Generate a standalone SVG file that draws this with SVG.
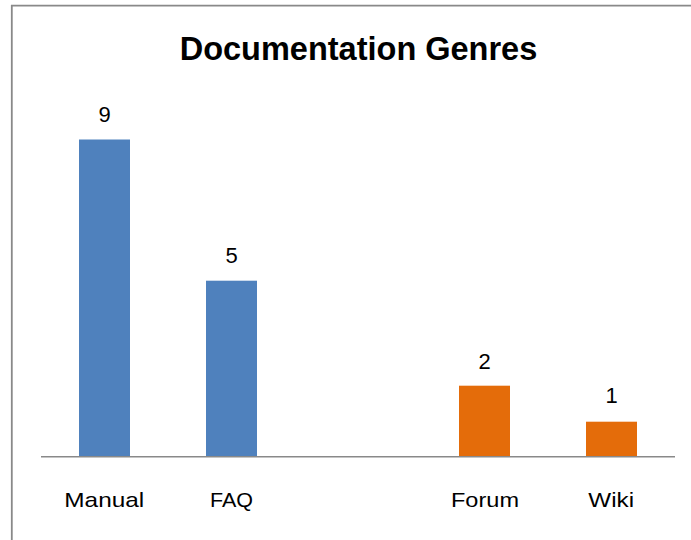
<svg xmlns="http://www.w3.org/2000/svg" width="691" height="540" viewBox="0 0 691 540">
<style>
.title{font-family:"Liberation Sans",Arial,sans-serif;font-weight:bold;font-size:32.5px;fill:#000;text-anchor:middle}
.val{font-family:"Liberation Sans",Arial,sans-serif;font-size:22px;fill:#000;text-anchor:middle}
.cat{font-family:"Liberation Sans",Arial,sans-serif;font-size:21px;fill:#000;text-anchor:middle}
.blue{fill:#4F81BD}
.orange{fill:#E46C0A}
</style>
<rect x="0" y="0" width="691" height="540" fill="#fff"/>
<path d="M11.8 540 V5.6 H691" fill="none" stroke="#898989" stroke-width="1.8"/>
<text class="title" x="358.5" y="59.5">Documentation Genres</text>
<g id="bar-manual">
<rect class="blue" x="79" y="139.5" width="51" height="317"/>
<text class="val" x="104.5" y="121.7">9</text>
<text class="cat" x="104.3" y="506.7" textLength="80" lengthAdjust="spacingAndGlyphs">Manual</text>
</g>
<g id="bar-faq">
<rect class="blue" x="206" y="280.7" width="51" height="175.8"/>
<text class="val" x="231.5" y="262.7">5</text>
<text class="cat" x="231.5" y="506.7" textLength="43" lengthAdjust="spacingAndGlyphs">FAQ</text>
</g>
<g id="bar-forum">
<rect class="orange" x="459" y="385.7" width="51" height="70.8"/>
<text class="val" x="484.5" y="369.3">2</text>
<text class="cat" x="485" y="506.7" textLength="68" lengthAdjust="spacingAndGlyphs">Forum</text>
</g>
<g id="bar-wiki">
<rect class="orange" x="586" y="421.7" width="51" height="34.8"/>
<text class="val" x="611.5" y="403.4">1</text>
<text class="cat" x="611.2" y="506.7" textLength="45.7" lengthAdjust="spacingAndGlyphs">Wiki</text>
</g>
<g id="axis">
<line x1="41" y1="456.8" x2="675" y2="456.8" stroke="#898989" stroke-width="1.4"/>
</g>
</svg>
